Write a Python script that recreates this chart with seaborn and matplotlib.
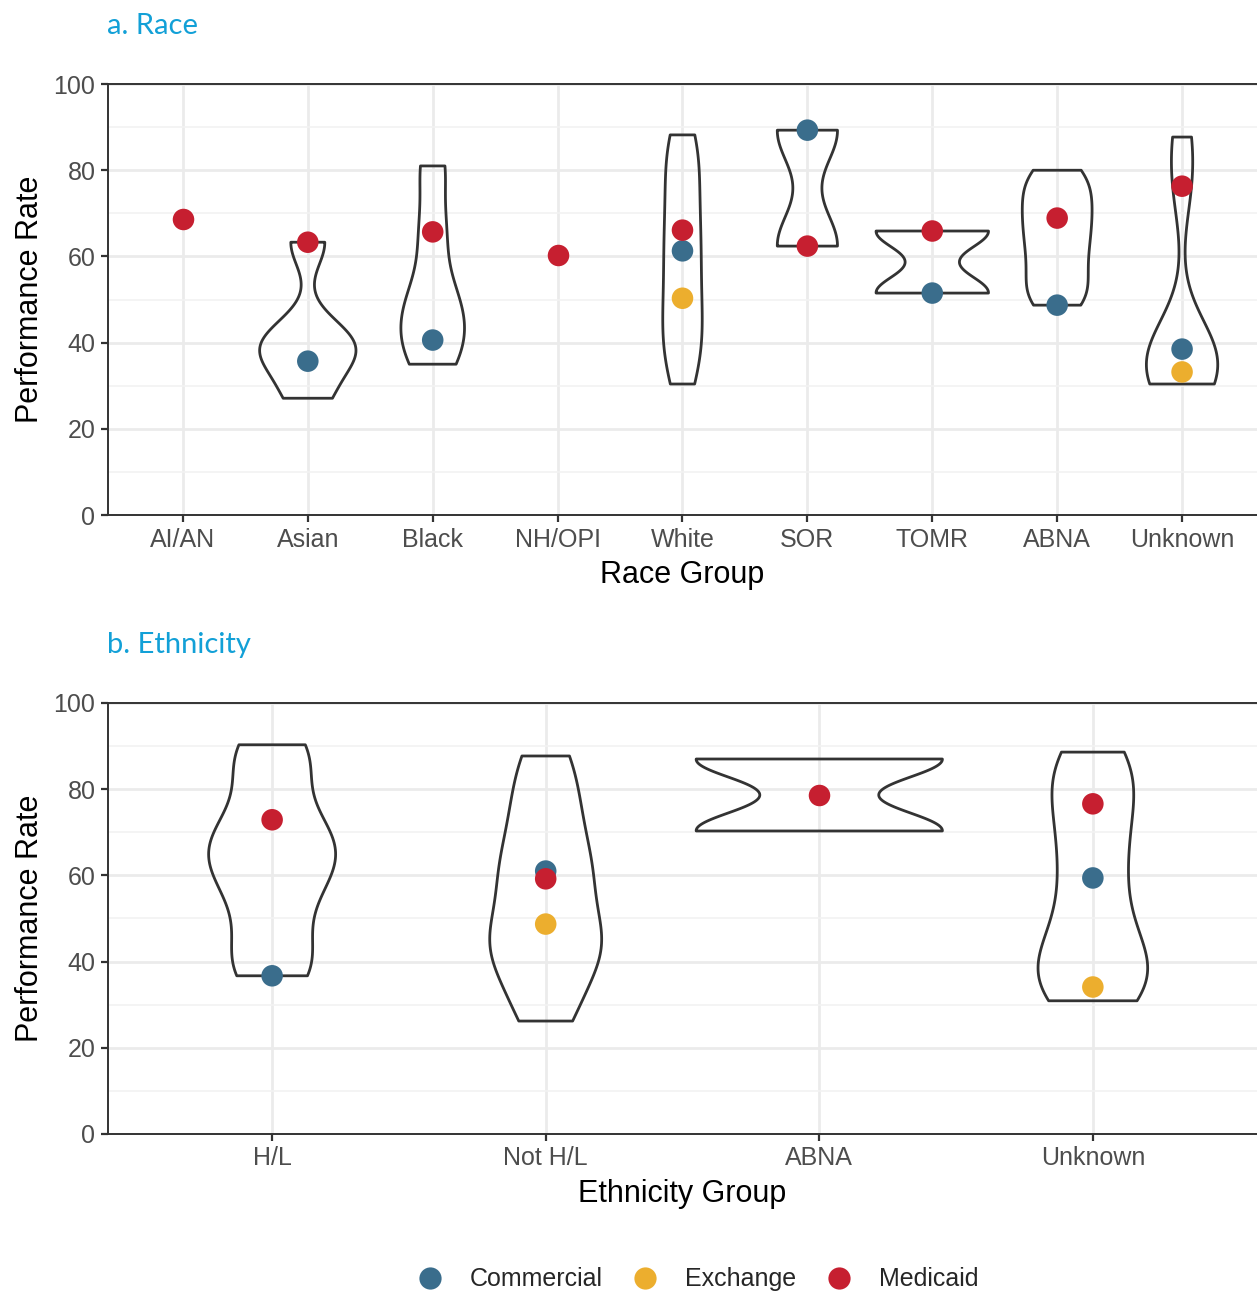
import numpy as np
import pandas as pd
import matplotlib.pyplot as plt
import seaborn as sns

# categories
race_groups = ["AI/AN", "Asian", "Black", "NH/OPI", "White", "SOR", "TOMR", "ABNA", "Unknown"]
eth_groups = ["H/L", "Not H/L", "ABNA", "Unknown"]
products = ["Commercial", "Exchange", "Medicaid"]
colors = ["#3a6d8c", "#ecae2e", "#c61f30"]

# product line rates shown as points (nan = not reported)
race_commercial = [np.nan, 35.7, 40.6, np.nan, 61.3, 89.3, 51.5, 48.7, 38.5]
race_exchange = [np.nan, np.nan, np.nan, np.nan, 50.3, np.nan, np.nan, np.nan, 33.2]
race_medicaid = [68.7, 63.3, 65.7, 60.3, 66.1, 62.4, 65.9, 68.9, 76.3]

eth_commercial = [36.7, 61.0, np.nan, 59.4]
eth_exchange = [np.nan, 48.7, np.nan, 34.1]
eth_medicaid = [72.9, 59.2, 78.7, 76.6]

# underlying plan-level rates behind each violin (estimated from the shapes)
asian_rates = [27.1, 35.7, 39.0, 42.0, 63.3]
black_rates = [35.0, 40.6, 46.0, 52.0, 65.7, 81.0]
white_rates = [30.4, 36.0, 41.0, 45.0, 50.3, 56.0, 61.3, 66.1, 72.0, 78.0, 84.0, 88.2]
sor_rates = [62.4, 89.3]
tomr_rates = [51.5, 65.9]
abna_rates = [48.7, 52.0, 56.5, 61.0, 65.0, 68.9, 72.5, 76.5, 80.0]
unknown_rates = [30.4, 32.0, 33.2, 35.0, 38.5, 41.0, 76.3, 87.7]

hl_rates = [36.7, 41.0, 52.0, 60.0, 64.0, 68.0, 72.9, 85.0, 90.3]
nothl_rates = [26.2, 35.0, 42.0, 45.0, 48.7, 59.2, 61.0, 70.0, 78.0, 87.7]
eth_abna_rates = [70.3, 87.0]
eth_unknown_rates = [30.9, 34.1, 38.0, 42.0, 50.0, 59.4, 68.0, 76.6, 83.0, 88.6]


def long_points(groups, com, exc, med):
    rows = []
    for prod, vals in zip(products, [com, exc, med]):
        for g, v in zip(groups, vals):
            if not np.isnan(v):
                rows.append({"group": g, "product": prod, "rate": v})
    return pd.DataFrame(rows)


def long_violin(named):
    rows = []
    for g, vals in named:
        for v in vals:
            rows.append({"group": g, "rate": v})
    return pd.DataFrame(rows)


race_pts = long_points(race_groups, race_commercial, race_exchange, race_medicaid)
eth_pts = long_points(eth_groups, eth_commercial, eth_exchange, eth_medicaid)
race_vio = long_violin([("Asian", asian_rates), ("Black", black_rates), ("White", white_rates),
                        ("SOR", sor_rates), ("TOMR", tomr_rates), ("ABNA", abna_rates),
                        ("Unknown", unknown_rates)])
eth_vio = long_violin([("H/L", hl_rates), ("Not H/L", nothl_rates), ("ABNA", eth_abna_rates),
                       ("Unknown", eth_unknown_rates)])

sns.set_theme(style="white")
plt.rcParams["font.family"] = ["Liberation Sans", "DejaVu Sans"]

fig = plt.figure(figsize=(12.57, 12.97), dpi=100)
ax1 = fig.add_axes([0.0859, 0.6029, 0.9141, 0.3323])
ax2 = fig.add_axes([0.0859, 0.1257, 0.9141, 0.3323])


def draw_panel(ax, vio, pts, groups, xlabel, title):
    # grid first
    ax.set_axisbelow(True)
    sns.violinplot(data=vio, x="group", y="rate", order=groups, ax=ax, fill=False,
                   color="#333333", linewidth=2.0, inner=None, cut=0,
                   density_norm="area", width=0.9, bw_method=0.42)
    sns.stripplot(data=pts, x="group", y="rate", order=groups, hue="product",
                  hue_order=products, palette=colors, jitter=False, dodge=False,
                  size=15.5, linewidth=0, ax=ax, zorder=5)
    ax.set_ylim(0, 100)
    ax.set_xlim(-0.6, len(groups) - 0.4)
    ax.set_yticks([0, 20, 40, 60, 80, 100])
    ax.set_yticks([10, 30, 50, 70, 90], minor=True)
    ax.grid(True, which="major", color="#ebebeb", linewidth=2.0)
    ax.grid(True, which="minor", axis="y", color="#f2f2f2", linewidth=1.2)
    ax.tick_params(axis="both", which="major", labelsize=18, labelcolor="#4d4d4d",
                   length=5, width=1.6, color="#333333", direction="out",
                   bottom=True, left=True, pad=4)
    ax.tick_params(axis="y", which="minor", length=0)
    for side in ["left", "bottom", "top"]:
        ax.spines[side].set_color("#333333")
        ax.spines[side].set_linewidth(1.4)
    ax.spines["right"].set_visible(False)
    ax.set_xlabel(xlabel, fontsize=22, color="black", labelpad=6)
    ax.set_ylabel("Performance Rate", fontsize=22, color="black", labelpad=6)
    ax.text(-0.0008, 1.135, title, transform=ax.transAxes, fontsize=21,
            color="#12a0d7", family=["Lato", "DejaVu Sans"], ha="left", va="center")
    leg = ax.get_legend()
    if leg is not None:
        leg.remove()


draw_panel(ax1, race_vio, race_pts, race_groups, "Race Group", "a. Race")
draw_panel(ax2, eth_vio, eth_pts, eth_groups, "Ethnicity Group", "b. Ethnicity")

handles = [plt.Line2D([], [], marker="o", linestyle="", markersize=16,
                      markerfacecolor=c, markeredgewidth=0) for c in colors]
fig.legend(handles, products, loc="center", bbox_to_anchor=(0.555, 0.0135), ncol=3,
           frameon=False, fontsize=18, handlelength=1.0, handletextpad=1.1,
           columnspacing=1.2)

fig.savefig("out.png", dpi=100)
